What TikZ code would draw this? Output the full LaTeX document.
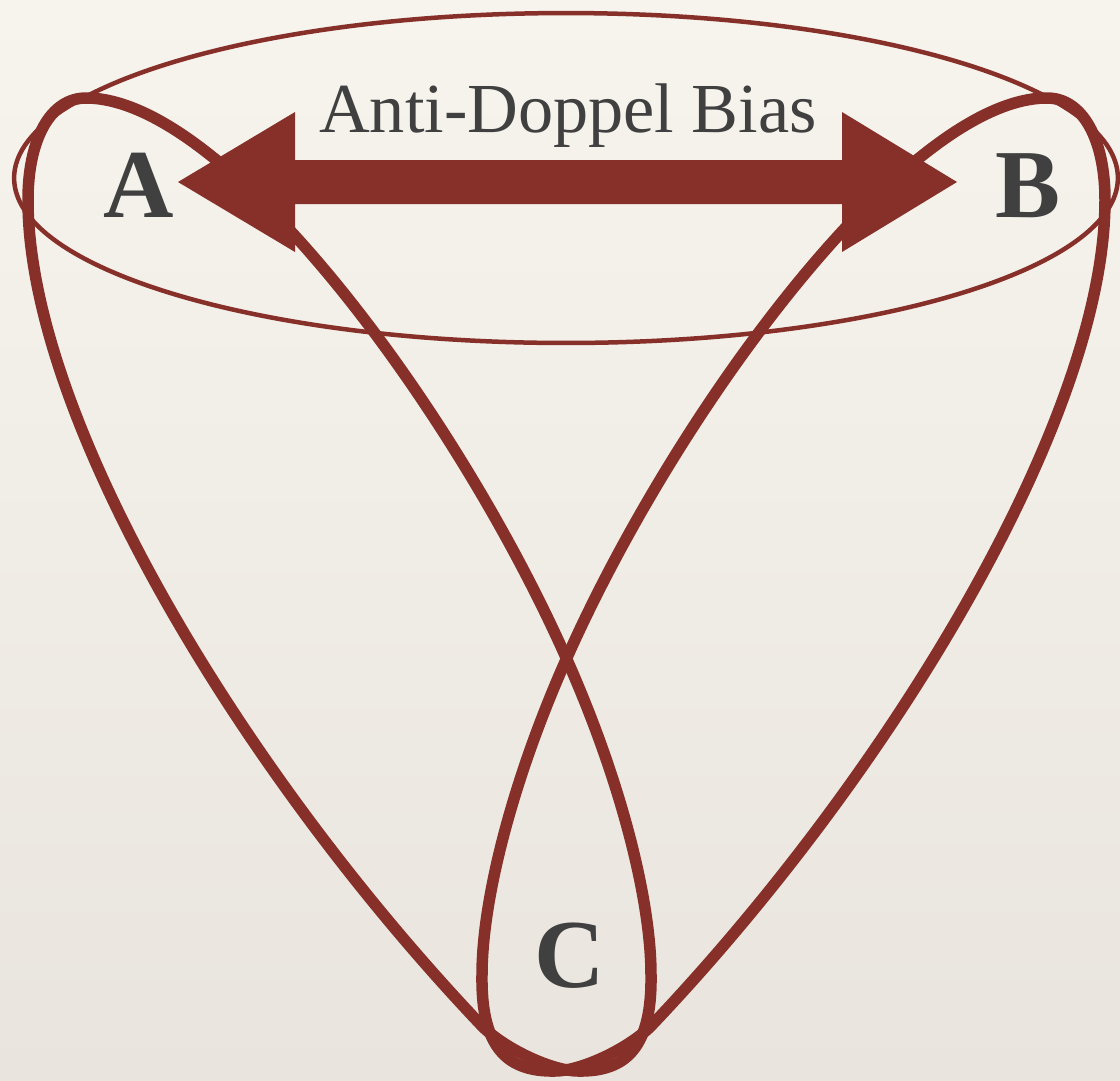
\documentclass[tikz,border=0pt]{standalone}
\usepackage{fontspec}
\setmainfont{Liberation Serif}
\definecolor{maroon}{RGB}{135,48,42}
\definecolor{labgray}{RGB}{64,64,64}
\definecolor{paperTop}{RGB}{247,244,238}
\definecolor{paperBot}{RGB}{233,229,222}
\newcommand{\teardrop}{%
  (86,98) .. controls (226,98) and (458,412) .. (568,662)
  .. controls (621,782) and (651,900) .. (651,975)
  .. controls (652,1045) and (628,1072) .. (578,1071)
  .. controls (553,1071) and (507,1050) .. (483,1027)
  .. controls (245,777) and (28,420) .. (28,200)
  .. controls (28,140) and (50,98) .. cycle}
\begin{document}
\begin{tikzpicture}[x=0.02cm,y=-0.02cm,
  loopline/.style={draw=maroon, line width=0.23cm, line join=round},
  thinline/.style={draw=maroon, line width=0.09cm},
  lbl/.style={text=labgray, font=\bfseries\fontsize{55.5}{58}\selectfont, inner sep=0pt, anchor=base},
  ttl/.style={text=labgray, font=\fontsize{40}{42}\selectfont, inner sep=0pt, anchor=base}]
\shade[top color=paperTop, bottom color=paperBot] (0,0) rectangle (1120,1080);
\useasboundingbox (0,0) rectangle (1120,1080);
% thin ellipse around A and B
\draw[thinline] (566,178) ellipse [x radius=11.04cm, y radius=3.3cm];
% loop A--C
\draw[loopline] \teardrop;
% loop B--C (mirror image)
\begin{scope}[shift={(1133,0)}, xscale=-1]
  \draw[loopline] \teardrop;
\end{scope}
% double arrow between A and B
\coordinate (tipA) at (178,182);
\coordinate (tipB) at (957,182);
\fill[maroon] (tipA) -- (295,112) -- (295,160) -- (842,160) -- (842,112) -- (tipB)
  -- (842,252) -- (842,204) -- (295,204) -- (295,252) -- cycle;
\node[ttl] (title) at (568,132) {Anti-Doppel Bias};
\node[lbl] (A) at (139,217) {A};
\node[lbl] (B) at (1028,217) {B};
\node[lbl] (C) at (570,987) {C};
\end{tikzpicture}
\end{document}
